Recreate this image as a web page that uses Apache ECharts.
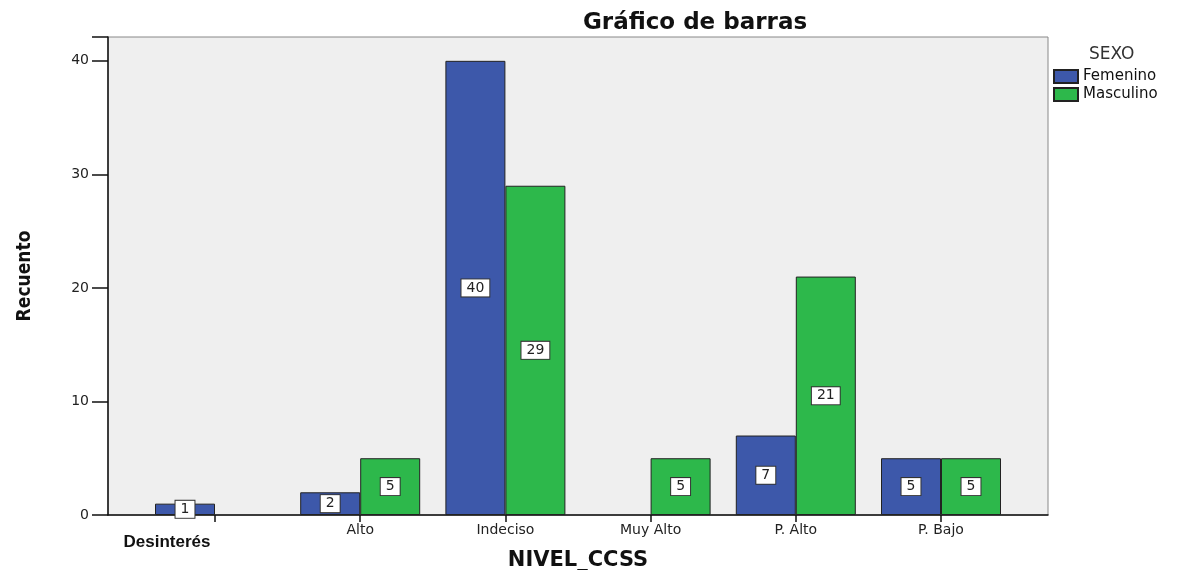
<!DOCTYPE html>
<html>
<head>
<meta charset="utf-8">
<script src="https://cdn.jsdelivr.net/npm/echarts@6/dist/echarts.min.js"></script>
<style>html,body{margin:0;padding:0;background:#fff}#c{width:1201px;height:570px}</style>
</head>
<body>
<div id="c"></div>
<script>
var categories = ['Desinterés', 'Alto', 'Indeciso', 'Muy Alto', 'P. Alto', 'P. Bajo'];
var femenino = [1, 2, 40, null, 7, 5];
var masculino = [null, 5, 29, 5, 21, 5];
var yTicks = [0, 10, 20, 30, 40];
var seriesNames = ['Femenino', 'Masculino'];

var Y_MAX = 42.1;
var FONT = 'DejaVu Sans, Liberation Sans, sans-serif';

var chart = echarts.init(document.getElementById('c'), null, {renderer: 'canvas'});

var labelStyle = {
  show: true,
  position: 'inside',
  color: '#222',
  fontFamily: FONT,
  fontSize: 14,
  backgroundColor: '#fff',
  borderColor: '#333',
  borderWidth: 1,
  padding: [2, 5, 1, 5]
};

chart.setOption({
  animation: false,
  backgroundColor: '#fff',
  title: [
    {text: 'Gráfico de barras', left: 690, top: 7, textAlign: 'center',
     textStyle: {fontFamily: FONT, fontWeight: 'bold', fontSize: 23, color: '#111'}},
    {text: 'SEXO', left: 1084, top: 41,
     textStyle: {fontFamily: FONT, fontWeight: 'normal', fontSize: 17, color: '#333'}}
  ],
  legend: {
    orient: 'vertical',
    left: 1053, top: 69, padding: 0,
    itemWidth: 24, itemHeight: 13, itemGap: 3,
    icon: 'rect',
    textStyle: {fontFamily: FONT, fontSize: 15, color: '#111', lineHeight: 13},
    data: seriesNames
  },
  grid: [
    {left: 108, right: 153, top: 37, bottom: 55, show: true, outerBoundsMode: 'none',
     backgroundColor: '#efefef', borderColor: '#888', borderWidth: 1},
    {left: 142.4, right: 187.4, top: 37, bottom: 55, outerBoundsMode: 'none'}
  ],
  xAxis: [
    {gridIndex: 0, type: 'value', min: 0, max: 1,
     axisLine: {show: true, lineStyle: {color: '#111', width: 1.5}},
     axisTick: {show: false}, axisLabel: {show: false}, splitLine: {show: false}},
    {gridIndex: 1, type: 'category', data: categories,
     axisLine: {show: false},
     axisTick: {show: true, alignWithLabel: true, length: 7, lineStyle: {color: '#111', width: 1.5}},
     axisLabel: {
       margin: 8, color: '#222', fontFamily: FONT, fontSize: 14,
       formatter: function (v, i) { return i === 0 ? '{d|' + v + '}' : v; },
       rich: {d: {fontFamily: 'Liberation Sans, Arial, sans-serif', fontWeight: 'bold', fontSize: 17,
                  color: '#111', padding: [11, 96, 0, 0]}}
     },
     name: 'NIVEL_CCSS', nameLocation: 'middle', nameGap: 35, nameMoveOverlap: false,
     nameTextStyle: {fontFamily: FONT, fontWeight: 'bold', fontSize: 21, color: '#111'}}
  ],
  yAxis: [
    {gridIndex: 0, type: 'value', min: 0, max: Y_MAX, interval: 10,
     axisLine: {show: true, lineStyle: {color: '#111', width: 1.5}},
     axisTick: {show: true, length: 16, lineStyle: {color: '#111', width: 1.5}},
     axisLabel: {margin: 19, color: '#222', fontFamily: FONT, fontSize: 14,
       formatter: function (v) { return yTicks.indexOf(v) >= 0 ? String(v) : ''; }},
     splitLine: {show: false},
     name: 'Recuento', nameLocation: 'middle', nameRotate: 90, nameGap: 73, nameMoveOverlap: false,
     nameTextStyle: {fontFamily: 'Liberation Sans Narrow, DejaVu Sans Condensed, sans-serif',
                     fontWeight: 'bold', fontSize: 19, color: '#111'}},
    {gridIndex: 1, type: 'value', min: 0, max: Y_MAX, interval: 10, show: false,
     splitLine: {show: false}}
  ],
  series: [
    {name: seriesNames[0], type: 'bar', xAxisIndex: 1, yAxisIndex: 1,
     data: femenino, barWidth: 60, barGap: '0%',
     itemStyle: {color: '#3d58aa', borderColor: '#222', borderWidth: 1},
     label: labelStyle},
    {name: seriesNames[1], type: 'bar', xAxisIndex: 1, yAxisIndex: 1,
     data: masculino, barWidth: 60, barGap: '0%',
     itemStyle: {color: '#2db84b', borderColor: '#222', borderWidth: 1},
     label: labelStyle}
  ],
  graphic: [
    {type: 'rect', z: 100, shape: {x: 100, y: 548, width: 160, height: 22},
     style: {fill: '#fff'}, silent: true}
  ]
});
</script>
</body>
</html>
